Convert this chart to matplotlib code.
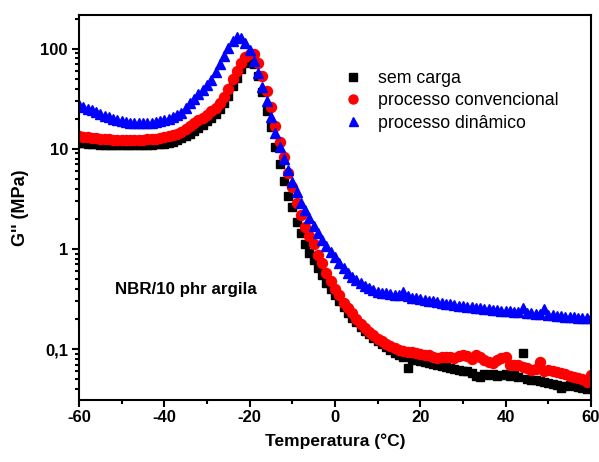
import numpy as np
import matplotlib
matplotlib.use('Agg')
import matplotlib.pyplot as plt
from matplotlib.ticker import FixedLocator, LogLocator, NullFormatter, MultipleLocator

plt.rcParams['font.family'] = ['Liberation Sans', 'DejaVu Sans']
plt.rcParams['axes.unicode_minus'] = False

# temperatura (°C), mesma grade para as três séries
temp = list(range(-60, 61))

# sem carga
sem_carga = [
    11.5, 11.4, 11.3, 11.2, 11.1, 11.0, 11.0, 10.9, 10.9, 10.8,   # -60..-51
    10.8, 10.8, 10.8, 10.8, 10.8, 10.9, 10.9, 11.0, 11.1, 11.2,   # -50..-41
    11.3, 11.5, 11.8, 12.2, 12.7, 13.4, 14.2, 15.1, 16.2, 17.4,   # -40..-31
    18.8, 20.4, 22.3, 24.8, 28.5, 34, 42, 51, 62, 72,             # -30..-21
    80, 70, 53, 37, 24, 16.5, 10.5, 7.0, 4.8, 3.4,                # -20..-11
    2.6, 1.85, 1.45, 1.12, 0.92, 0.77, 0.64, 0.55, 0.46, 0.40,    # -10..-1
    0.345, 0.30, 0.262, 0.23, 0.205, 0.185, 0.168, 0.152, 0.14, 0.13,  # 0..9
    0.12, 0.112, 0.104, 0.098, 0.092, 0.087, 0.083, 0.064, 0.079, 0.078,  # 10..19
    0.076, 0.074, 0.072, 0.071, 0.069, 0.068, 0.066, 0.065, 0.063, 0.062,  # 20..29
    0.061, 0.060, 0.058, 0.054, 0.053, 0.057, 0.055, 0.056, 0.054, 0.055,  # 30..39
    0.056, 0.054, 0.055, 0.053, 0.091, 0.050, 0.049, 0.049, 0.048, 0.047,  # 40..49
    0.046, 0.045, 0.044, 0.041, 0.043, 0.044, 0.043, 0.042, 0.041, 0.040,  # 50..59
    0.041,
]

# processo convencional
convencional = [
    13.3, 13.1, 13.0, 12.8, 12.7, 12.6, 12.5, 12.4, 12.3, 12.3,
    12.2, 12.2, 12.2, 12.2, 12.3, 12.3, 12.4, 12.5, 12.6, 12.8,
    13.0, 13.3, 13.7, 14.2, 14.8, 15.8, 16.8, 18.0, 19.2, 20.5,
    22, 23.8, 25.8, 28.5, 33, 40, 50, 60, 72, 82,
    88, 88, 72, 53, 38, 26, 17, 11.8, 8.2, 5.7,
    4.2, 2.9, 2.2, 1.65, 1.35, 1.12, 0.88, 0.72, 0.58, 0.48,
    0.40, 0.345, 0.29, 0.255, 0.228, 0.20, 0.18, 0.162, 0.148, 0.137,
    0.127, 0.12, 0.113, 0.108, 0.103, 0.098, 0.096, 0.094, 0.093, 0.091,
    0.090, 0.088, 0.087, 0.084, 0.081, 0.083, 0.084, 0.083, 0.081, 0.085,
    0.088, 0.086, 0.080, 0.087, 0.083, 0.078, 0.075, 0.072, 0.078, 0.082,
    0.084, 0.070, 0.069, 0.069, 0.066, 0.064, 0.062, 0.063, 0.075, 0.061,
    0.062, 0.060, 0.059, 0.058, 0.056, 0.054, 0.053, 0.051, 0.050, 0.047,
    0.055,
]

# processo dinâmico
dinamico = [
    27.5, 26.3, 25.2, 24.2, 23.2, 22.3, 21.5, 20.7, 20.0, 19.4,
    18.9, 18.5, 18.2, 18.0, 17.9, 17.9, 18.0, 18.2, 18.5, 18.9,
    19.4, 20.0, 20.8, 21.7, 22.8, 25.5, 28.5, 31.5, 35, 38.5,
    43, 49, 58, 70, 85, 102, 118, 130, 128, 115,
    98, 76, 57, 41, 30, 21, 14.5, 10.5, 8.0, 6.1,
    4.7, 3.7, 2.9, 2.45, 2.05, 1.7, 1.45, 1.23, 1.07, 0.94,
    0.83, 0.73, 0.65, 0.58, 0.53, 0.49, 0.46, 0.43, 0.41, 0.39,
    0.375, 0.365, 0.36, 0.355, 0.35, 0.345, 0.37, 0.335, 0.325, 0.32,
    0.315, 0.31, 0.305, 0.30, 0.295, 0.29, 0.285, 0.28, 0.275, 0.272,
    0.27, 0.265, 0.262, 0.258, 0.255, 0.252, 0.249, 0.246, 0.245, 0.242,
    0.24, 0.238, 0.236, 0.234, 0.255, 0.23, 0.228, 0.225, 0.222, 0.25,
    0.22, 0.218, 0.216, 0.213, 0.211, 0.209, 0.208, 0.206, 0.205, 0.204,
    0.203,
]

y_ticks = [0.1, 1, 10, 100]
y_tick_labels = ['0,1', '1', '10', '100']
x_ticks = [-60, -40, -20, 0, 20, 40, 60]

fig = plt.figure(figsize=(5.99, 4.62), dpi=100)
ax = fig.add_axes([79 / 599, 62 / 462, 512 / 599, 385 / 462])

ax.plot(temp, sem_carga, 's', color='black', ms=5.8, mec='black', label='sem carga')
ax.plot(temp, convencional, 'o', color='red', ms=7.2, mec='red', label='processo convencional')
ax.plot(temp, dinamico, '^', color='blue', ms=7.2, mec='blue', label='processo dinâmico')

ax.set_yscale('log')
ax.set_xlim(-60, 60)
ax.set_ylim(0.031, 217)

ax.yaxis.set_major_locator(FixedLocator(y_ticks))
ax.set_yticklabels(y_tick_labels)
ax.yaxis.set_minor_locator(LogLocator(base=10, subs=np.arange(2, 10)))
ax.yaxis.set_minor_formatter(NullFormatter())
ax.set_xticks(x_ticks)
ax.xaxis.set_minor_locator(MultipleLocator(10))

for s in ax.spines.values():
    s.set_linewidth(1.5)
ax.tick_params(which='major', direction='out', length=5, width=1.5,
               labelsize=12, top=False, right=False)
ax.tick_params(which='minor', direction='out', length=3, width=1.5, top=False, right=False)
ax.tick_params(axis='y', pad=3)
ax.tick_params(axis='x', pad=2)
for lab in ax.get_xticklabels() + ax.get_yticklabels():
    lab.set_fontweight('bold')

ax.set_xlabel('Temperatura (°C)', fontsize=12.5, fontweight='bold', labelpad=6)
ax.set_ylabel('G\'\' (MPa)', fontsize=13, fontweight='bold', labelpad=8)

ax.text(0.070, 0.286, 'NBR/10 phr argila', transform=ax.transAxes,
        fontsize=12.2, fontweight='bold', va='center', ha='left')

leg = ax.legend(loc='upper left', bbox_to_anchor=(0.518, 0.857), frameon=False,
                fontsize=12.8, handlelength=1.0, handletextpad=0.9,
                borderpad=0, borderaxespad=0, labelspacing=0.3, markerscale=0.9)

fig.savefig('out.png', dpi=100)
